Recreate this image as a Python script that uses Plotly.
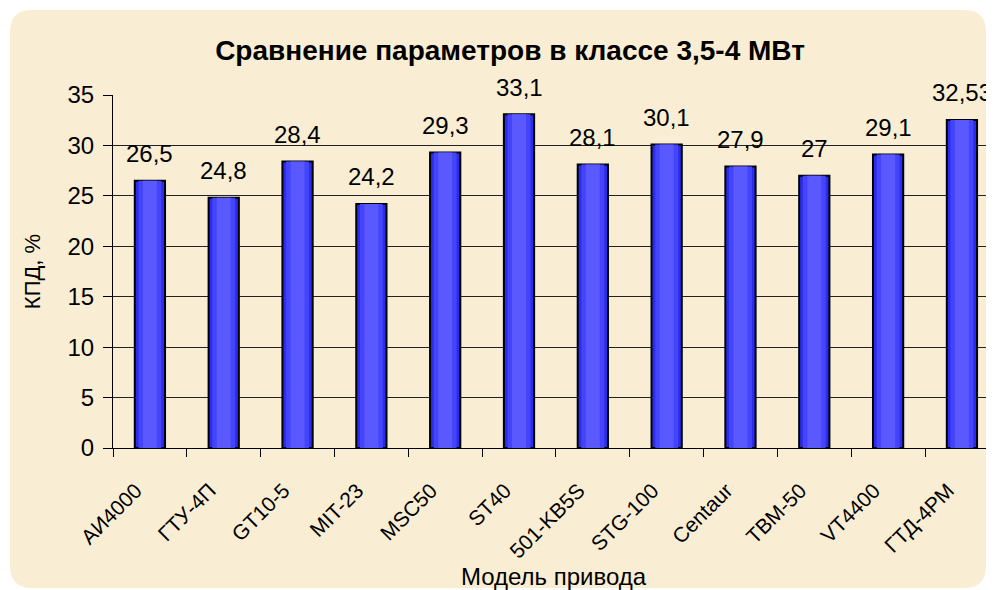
import plotly.graph_objects as go

categories = ["АИ4000", "ГТУ-4П", "GT10-5", "MIT-23", "MSC50", "ST40",
              "501-KB5S", "STG-100", "Centaur", "TBM-50", "VT4400", "ГТД-4РМ"]
kpd_values = [26.5, 24.8, 28.4, 24.2, 29.3, 33.1, 28.1, 30.1, 27.9, 27, 29.1, 32.53]
y_ticks = [0, 5, 10, 15, 20, 25, 30, 35]

title_text = "Сравнение параметров в классе 3,5-4 МВт"
x_title = "Модель привода"
y_title = "КПД, %"

FONT = "Arial, Liberation Sans, sans-serif"
OFF = 8  # page body margin
W, H = 994 - OFF, 590 - OFF
ML, MR, MT = 113 - OFF, 0, 95 - OFF
MB = H - (448 - OFF)
PW = W - ML - MR
PH = H - MT - MB

def P(px, py):
    fx, fy = px - OFF, py - OFF
    return f"{(fx - ML) / PW:.5f},{(H - MB - fy) / PH:.5f}"

x0, y0, x1, y1, r = 10, 10, 986, 588, 22
path = (f"M {P(x0 + r, y0)} L {P(x1 - r, y0)} Q {P(x1, y0)} {P(x1, y0 + r)} "
        f"L {P(x1, y1 - r)} Q {P(x1, y1)} {P(x1 - r, y1)} "
        f"L {P(x0 + r, y1)} Q {P(x0, y1)} {P(x0, y1 - r)} "
        f"L {P(x0, y0 + r)} Q {P(x0, y0)} {P(x0 + r, y0)} Z")

fig = go.Figure()
# bar with simulated horizontal gradient: dark edges, lighter centre
fig.add_trace(go.Bar(
    x=categories, y=kpd_values, width=0.41,
    marker=dict(color="#2c2cef", line=dict(color="#000000", width=2)),
    hoverinfo="x+y",
))
fig.add_trace(go.Bar(
    x=categories, y=kpd_values, width=0.31,
    marker=dict(color="#4444fb", line=dict(width=0)),
    hoverinfo="skip",
))
fig.add_trace(go.Bar(
    x=categories, y=kpd_values, width=0.19,
    marker=dict(color="#5959ff", line=dict(width=0)),
    hoverinfo="skip",
))

labels = [f"{v:g}".replace(".", ",") for v in kpd_values]
annotations = []
for c, v, t in zip(categories, kpd_values, labels):
    annotations.append(dict(x=c, y=v, xref="x", yref="y", text=t, showarrow=False,
                            yanchor="middle", yshift=27,
                            font=dict(family=FONT, size=24, color="#000")))

fig.update_layout(
    width=W, height=H,
    margin=dict(l=ML, r=MR, t=MT, b=MB, autoexpand=False),
    paper_bgcolor="#ffffff", plot_bgcolor="rgba(0,0,0,0)",
    showlegend=False, barmode="overlay",
    title=dict(text=f"<b>{title_text}</b>", x=(510 - OFF) / W, xanchor="center",
               y=1 - (50 - OFF) / H, yanchor="middle", yref="container",
               font=dict(family=FONT, size=28, color="#000")),
    font=dict(family=FONT, color="#000"),
    shapes=[dict(type="path", path=path, xref="paper", yref="paper",
                 fillcolor="#f9eed4", line=dict(width=0), layer="below")],
    annotations=annotations,
    xaxis=dict(
        type="category", range=[-0.5, -0.5 + PW / 73.82],
        tickangle=-45, tickfont=dict(family=FONT, size=21, color="#000"),
        tickson="boundaries", ticks="outside", ticklen=8, tickcolor="#000",
        ticklabelstandoff=21, ticklabelshift=-14,
        showline=True, linecolor="#000", linewidth=1,
        showgrid=False, zeroline=False,
        title=dict(text=x_title, font=dict(family=FONT, size=24, color="#000"), standoff=0),
    ),
    yaxis=dict(
        range=[0, 35], tickvals=y_ticks, ticktext=[str(v) for v in y_ticks],
        tickfont=dict(family=FONT, size=24, color="#000"),
        ticks="outside", ticklen=9, tickcolor="#000",
        ticklabelstandoff=4,
        showline=True, linecolor="#000", linewidth=1,
        showgrid=True, gridcolor="#222", gridwidth=1, zeroline=False,
        title=dict(text=y_title, font=dict(family=FONT, size=22, color="#000"), standoff=20),
    ),
)

fig.write_html("out.html")
